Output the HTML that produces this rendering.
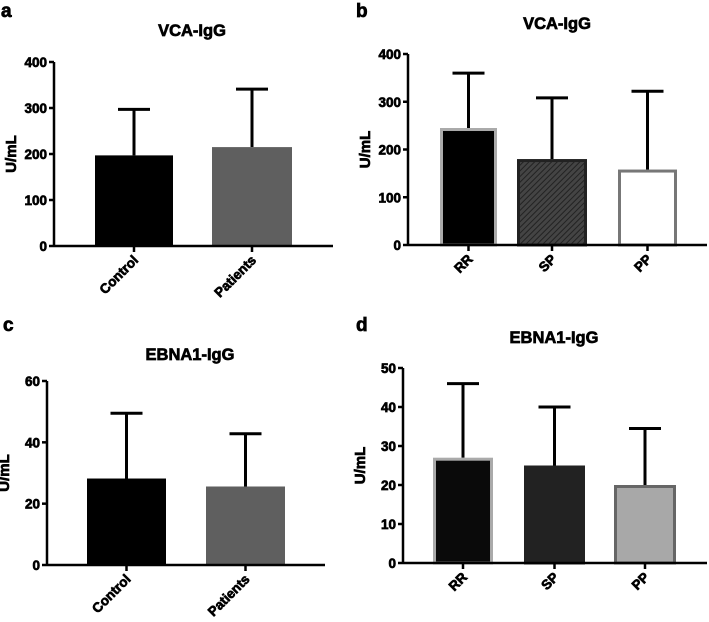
<!DOCTYPE html>
<html><head><meta charset="utf-8">
<style>
html,body{margin:0;padding:0;background:#fff;}
svg{display:block;font-family:"Liberation Sans",Arial,sans-serif;font-weight:bold;}
svg text{stroke:#000;stroke-width:0.7px;paint-order:stroke;}
</style></head>
<body>
<svg id="fig" width="709" height="622" viewBox="0 0 709 622" xmlns="http://www.w3.org/2000/svg">
<defs>
<pattern id="hatch" patternUnits="userSpaceOnUse" width="4" height="4" patternTransform="rotate(45)">
<rect width="4" height="4" fill="#444"/><line x1="0" y1="0" x2="0" y2="4" stroke="#222" stroke-width="2"/>
</pattern>
</defs>
</svg>
<script>
const catsA = ["Control","Patients"];
const valsA = [197, 215];
const errsA = [297, 341];
const ticksA = [0,100,200,300,400];

const catsB = ["RR","SP","PP"];
const valsB = [245, 180, 158];
const errsB = [360, 308, 322];
const ticksB = [0,100,200,300,400];

const catsC = ["Control","Patients"];
const valsC = [28.2, 25.6];
const errsC = [49.5, 42.8];
const ticksC = [0,20,40,60];

const catsD = ["RR","SP","PP"];
const valsD = [27, 25, 20];
const errsD = [46, 40, 34.5];
const ticksD = [0,10,20,30,40,50];

const NS = "http://www.w3.org/2000/svg";
const svg = document.getElementById('fig');
function mk(tag, attrs, parent){
  const e = document.createElementNS(NS, tag);
  for (const k in attrs) e.setAttribute(k, attrs[k]);
  (parent||svg).appendChild(e);
  return e;
}

function panel(p){
  const g = mk('g', {});
  
  
  const ymax = p.ticks[p.ticks.length-1];
  const y = v => p.y0 - (v / ymax) * (p.y0 - p.yTop);
  const L = mk('text', {x:p.lx, y:p.ly, 'font-size':19}, g);
  L.textContent = p.letter;
  
  
  const T = mk('text', {x:p.tx, y:p.ty, 'font-size':16.5, 'text-anchor':'middle'}, g);
  T.textContent = p.title;
  
  
  const yc = (p.y0 + p.yTop)/2;
  const YT = mk('text', {x:0, y:0, 'font-size':15, 'text-anchor':'middle', transform:`translate(${p.ax-38},${yc}) rotate(-90)`}, g);
  YT.textContent = 'U/mL';
  
  
  p.cats.forEach((c,i)=>{
    const x1 = p.bx[i][0], x2 = p.bx[i][1], cx = (x1+x2)/2;
    const top = y(p.vals[i]);
    const st = p.styles[i];
    const E = mk('line', {x1:cx, x2:cx, y1:y(p.errs[i]), y2:top, stroke:'#000', 'stroke-width':3}, g);
    
    
    const C = mk('line', {x1:cx-16, x2:cx+16, y1:y(p.errs[i]), y2:y(p.errs[i]), stroke:'#000', 'stroke-width':3}, g);
    
    
    const sw = st.sw || 0;
    const B = mk('rect', {x:x1+sw/2, y:top+sw/2, width:x2-x1-sw, height:p.y0-top-sw/2, fill:st.fill, stroke:st.stroke||'none', 'stroke-width':sw}, g);
    
    
    const tk = mk('line', {x1:cx, x2:cx, y1:p.y0, y2:p.y0+6, stroke:'#000', 'stroke-width':2.5}, g);
    
    
    const lb = mk('text', {x:0, y:0, 'font-size':13.5, 'text-anchor':'end', transform:`translate(${cx+5},${p.y0+15}) rotate(-45)`}, g);
    lb.textContent = c;
    
    
  });
  const ya = mk('line', {x1:p.ax, x2:p.ax, y1:p.yTop, y2:p.y0+1, stroke:'#000', 'stroke-width':2.5}, g);
  
  
  const xa = mk('line', {x1:p.ax, x2:p.axEnd, y1:p.y0, y2:p.y0, stroke:'#000', 'stroke-width':2.5}, g);
  
  
  p.ticks.forEach(t=>{
    const tl = mk('line', {x1:p.ax-5, x2:p.ax, y1:y(t), y2:y(t), stroke:'#000', 'stroke-width':2.5}, g);
    
    
    const tt = mk('text', {x:p.ax-7, y:y(t)+5, 'font-size':13.5, 'text-anchor':'end'}, g);
    tt.textContent = t;
    
    
  });
}

panel({letter:'a', lx:1, ly:17, title:'VCA-IgG', tx:192, ty:36, ax:54, axEnd:333, y0:246, yTop:62,
  cats:catsA, vals:valsA, errs:errsA, ticks:ticksA, bx:[[95,173],[212,292]],
  styles:[{fill:'#000'},{fill:'#5f5f5f'}]});
panel({letter:'b', lx:356, ly:17, title:'VCA-IgG', tx:557, ty:29, ax:408, axEnd:707, y0:245, yTop:54,
  cats:catsB, vals:valsB, errs:errsB, ticks:ticksB, bx:[[440,497],[517,587],[618,677]],
  styles:[{fill:'#000',stroke:'#aaa',sw:3},{fill:'url(#hatch)',stroke:'#222',sw:3},{fill:'#fff',stroke:'#777',sw:3}]});
panel({letter:'c', lx:3, ly:331, title:'EBNA1-IgG', tx:190, ty:360, ax:47, axEnd:325, y0:565, yTop:381,
  cats:catsC, vals:valsC, errs:errsC, ticks:ticksC, bx:[[87,166],[206,285]],
  styles:[{fill:'#000'},{fill:'#5f5f5f'}]});
panel({letter:'d', lx:356, ly:331, title:'EBNA1-IgG', tx:554, ty:343, ax:403, axEnd:707, y0:563, yTop:368,
  cats:catsD, vals:valsD, errs:errsD, ticks:ticksD, bx:[[433,493],[524,585],[614,676]],
  styles:[{fill:'#0a0a0a',stroke:'#aaa',sw:3},{fill:'#222',stroke:'#222',sw:3},{fill:'#a8a8a8',stroke:'#666',sw:3}]});
</script>
</body></html>
